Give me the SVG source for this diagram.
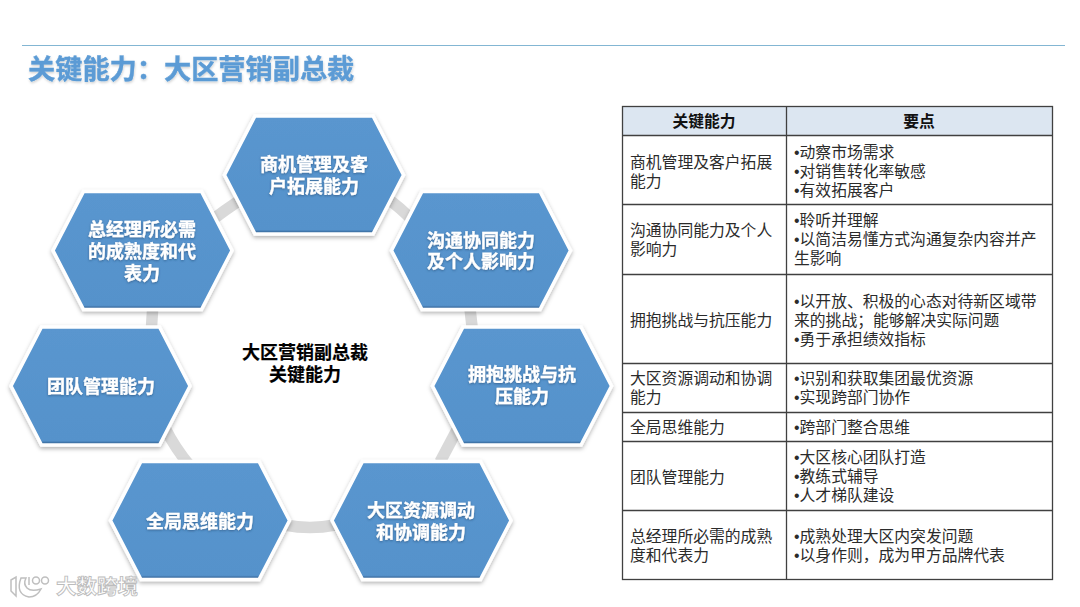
<svg xmlns="http://www.w3.org/2000/svg" width="1080" height="607" viewBox="0 0 1080 607">
<defs>
<linearGradient id="hexFill" x1="0" y1="0" x2="0" y2="1">
<stop offset="0" stop-color="#5a96cf"/><stop offset="0.965" stop-color="#5592cb"/><stop offset="0.98" stop-color="#3f72a6"/><stop offset="1" stop-color="#3f72a6"/>
</linearGradient>
<filter id="shadow" x="-10%" y="-10%" width="120%" height="125%"><feDropShadow dx="0" dy="2" stdDeviation="2.200" flood-color="#000" flood-opacity="0.3"/></filter>
<filter id="glow" x="-10%" y="-20%" width="120%" height="140%"><feDropShadow dx="0" dy="1" stdDeviation="1" flood-color="#1c3f63" flood-opacity="0.55"/></filter>
<filter id="tshadow" x="-5%" y="-20%" width="110%" height="150%"><feDropShadow dx="0.500" dy="1.500" stdDeviation="1.200" flood-color="#000" flood-opacity="0.18"/></filter>
<polygon id="hex" points="-89.500,0 -59,-59 59,-59 89.500,0 59,59 -59,59"/>
</defs>
<style>
text{font-family:"Noto Sans CJK SC","Liberation Sans",sans-serif}
.title{font-size:27.200px;font-weight:700;fill:#5b9bd5;stroke:#5b9bd5;stroke-width:.4;filter:url(#tshadow)}
.hex{fill:url(#hexFill);stroke:#fff;stroke-width:3.5;filter:url(#shadow);stroke-linejoin:miter}
.hl{font-size:18px;font-weight:700;fill:#fff;stroke:#fff;stroke-width:.3;text-anchor:middle;filter:url(#glow)}
.ctr{font-size:18px;font-weight:700;fill:#000;stroke:#000;stroke-width:.2;text-anchor:middle}
.c{fill:none;stroke:#d9d9d9;stroke-width:11.500}
.grid{fill:none;stroke:#404040;stroke-width:1.300}
.th{font-size:15.800px;font-weight:700;fill:#111;text-anchor:middle}
.td{font-size:15.800px;fill:#2b2b2b}
.b{font-family:"Liberation Sans",sans-serif}
.wm{font-size:20.500px;font-weight:700;fill:#fff;stroke:#bcbcbc;stroke-width:.9}
.lg{fill:#fff;stroke:#bfbfbf;stroke-width:1.500}
</style>
<rect width="1080" height="607" fill="#fff"/>
<line x1="22" y1="45.500" x2="1065" y2="45.500" stroke="#83b6d3" stroke-width="1"/>
<text class="title" x="28" y="79">关键能力：大区营销副总裁</text>
<g id="connectors">
<path class="c" d="M385 197Q400 207 414 222"/>
<path class="c" d="M469 300L473 335"/>
<path class="c" d="M458 428L440 462"/>
<path class="c" d="M285 525Q310 530 335 525"/>
<path class="c" d="M165 428Q175 448 190 466"/>
<path class="c" d="M153 303L151 335"/>
<path class="c" d="M208 223Q225 210 243 198"/>
</g>
<g id="node-1"><use href="#hex" class="hex" x="314" y="175"/><text class="hl" x="314" y="171">商机管理及客<tspan x="314" dy="22">户拓展能力</tspan></text></g>
<g id="node-2"><use href="#hex" class="hex" x="481" y="250.500"/><text class="hl" x="481" y="247">沟通协同能力<tspan x="481" dy="21">及个人影响力</tspan></text></g>
<g id="node-3"><use href="#hex" class="hex" x="522" y="386"/><text class="hl" x="522" y="381">拥抱挑战与抗<tspan x="522" dy="22">压能力</tspan></text></g>
<g id="node-4"><use href="#hex" class="hex" x="421.500" y="520.500"/><text class="hl" x="421" y="517">大区资源调动<tspan x="421" dy="22">和协调能力</tspan></text></g>
<g id="node-5"><use href="#hex" class="hex" x="200" y="520.500"/><text class="hl" x="200" y="528">全局思维能力</text></g>
<g id="node-6"><use href="#hex" class="hex" x="100.500" y="386"/><text class="hl" x="101" y="393">团队管理能力</text></g>
<g id="node-7"><use href="#hex" class="hex" x="142.500" y="250.500"/><text class="hl" x="142" y="236">总经理所必需<tspan x="142" dy="22">的成熟度和代</tspan><tspan x="142" dy="22">表力</tspan></text></g>
<g id="center"><text class="ctr" x="305" y="359">大区营销副总裁<tspan x="305" dy="22">关键能力</tspan></text></g>
<g id="table">
<rect x="622.500" y="106.500" width="430" height="29" fill="#dce6f1"/>
<rect class="grid" x="622.500" y="106.500" width="430" height="473"/>
<path class="grid" d="M786.500 106.500V579.500M622.500 135.500H1052.500M622.500 204.500H1052.500M622.500 274.500H1052.500M622.500 363.500H1052.500M622.500 412.500H1052.500M622.500 441.500H1052.500M622.500 510.500H1052.500"/>
<text class="th" x="704" y="127">关键能力</text><text class="th" x="919" y="127">要点</text>
<text class="td" x="630" y="168">商机管理及客户拓展<tspan x="630" dy="19">能力</tspan></text>
<text class="td" x="794" y="158"><tspan class="b">•</tspan>动察市场需求<tspan x="794" dy="19" class="b">•</tspan>对销售转化率敏感<tspan x="794" dy="19" class="b">•</tspan>有效拓展客户</text>
<text class="td" x="630" y="236">沟通协同能力及个人<tspan x="630" dy="19">影响力</tspan></text>
<text class="td" x="794" y="226"><tspan class="b">•</tspan>聆听并理解<tspan x="794" dy="19" class="b">•</tspan>以简洁易懂方式沟通复杂内容并产<tspan x="794" dy="19">生影响</tspan></text>
<text class="td" x="630" y="326">拥抱挑战与抗压能力</text>
<text class="td" x="794" y="307"><tspan class="b">•</tspan>以开放、积极的心态对待新区域带<tspan x="794" dy="19">来的挑战；能够解决实际问题</tspan><tspan x="794" dy="19" class="b">•</tspan>勇于承担绩效指标</text>
<text class="td" x="630" y="384">大区资源调动和协调<tspan x="630" dy="19">能力</tspan></text>
<text class="td" x="794" y="384"><tspan class="b">•</tspan>识别和获取集团最优资源<tspan x="794" dy="19" class="b">•</tspan>实现跨部门协作</text>
<text class="td" x="630" y="433">全局思维能力</text><text class="td" x="794" y="433"><tspan class="b">•</tspan>跨部门整合思维</text>
<text class="td" x="630" y="483">团队管理能力</text>
<text class="td" x="794" y="463"><tspan class="b">•</tspan>大区核心团队打造<tspan x="794" dy="19" class="b">•</tspan>教练式辅导<tspan x="794" dy="19" class="b">•</tspan>人才梯队建设</text>
<text class="td" x="630" y="542">总经理所必需的成熟<tspan x="630" dy="19">度和代表力</tspan></text>
<text class="td" x="794" y="542"><tspan class="b">•</tspan>成熟处理大区内突发问题<tspan x="794" dy="19" class="b">•</tspan>以身作则，成为甲方品牌代表</text>
</g>
<g id="watermark">
<path class="lg" d="M11 580L16 577V596L11 591Z"/>
<path class="lg" d="M21 578Q15 594 29 597Q37 597 41 589Q31 592 27 588Q23 584 26 578Z"/>
<path class="lg" d="M29 577V585"/>
<circle class="lg" cx="36" cy="580.500" r="3.500"/>
<circle class="lg" cx="45" cy="580.500" r="3.500"/>
<text class="wm" x="56" y="594">大数跨境</text>
</g>
</svg>
